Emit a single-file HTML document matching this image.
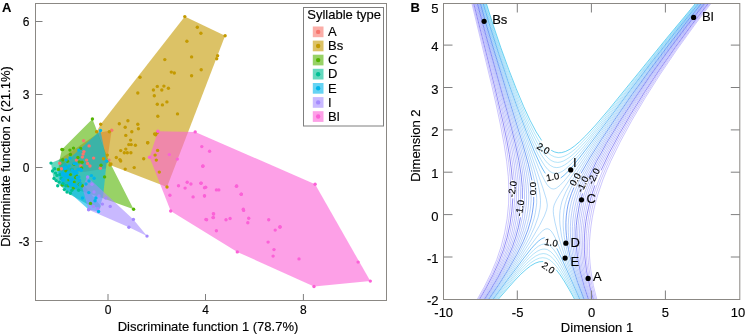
<!DOCTYPE html>
<html><head><meta charset="utf-8"><style>
html,body{margin:0;padding:0;background:#fff;}
body{width:747px;height:335px;overflow:hidden;position:relative;font-family:"Liberation Sans",sans-serif;}
svg{position:absolute;left:0;top:0;will-change:transform;}
text{font-family:"Liberation Sans",sans-serif;fill:#000;stroke:#000;stroke-width:0.15px;}
</style></head><body>
<svg width="747" height="335" viewBox="0 0 747 335">
<g id="left">
<polygon fill="#F8766D" fill-opacity="0.6" points="111.7,130.2 106.0,168.5 84.0,172.0 61.4,171.0 58.5,160.0 99.0,132.8"/>
<polygon fill="#C49A00" fill-opacity="0.6" points="184.8,16.6 225.1,35.7 167.0,187.0 110.0,165.0 96.6,131.8 100.7,124.3"/>
<polygon fill="#53B400" fill-opacity="0.6" points="92.4,119.0 107.6,158.0 133.6,209.2 101.6,197.8 62.2,185.1 58.4,169.4 59.5,160.0 61.9,149.5"/>
<polygon fill="#00C094" fill-opacity="0.6" points="51.0,163.0 62.0,158.5 101.0,206.0 100.0,208.8 87.6,204.3 70.4,194.8 53.6,179.5"/>
<polygon fill="#00B6EB" fill-opacity="0.6" points="100.5,130.5 106.7,161.3 103.1,196.2 98.6,211.5 88.8,209.7 60.0,184.0 57.5,172.0 60.0,167.0"/>
<polygon fill="#A58AFF" fill-opacity="0.6" points="87.0,176.5 133.4,219.4 147.0,236.1 128.9,227.2 88.6,209.7 82.5,188.2"/>
<polygon fill="#FB61D7" fill-opacity="0.6" points="157.9,131.3 195.2,131.9 315.1,184.3 370.3,281.1 314.0,286.5 237.3,251.9 170.7,211.0 149.6,157.3"/>

<g fill="#F8766D"><circle cx="111.7" cy="130.2" r="1.7"/><circle cx="83.6" cy="140.7" r="1.7"/><circle cx="89.1" cy="145.9" r="1.7"/><circle cx="83.9" cy="151.6" r="1.7"/><circle cx="83.1" cy="154.1" r="1.7"/><circle cx="82.4" cy="157.1" r="1.7"/><circle cx="86.6" cy="160.1" r="1.7"/><circle cx="87.6" cy="163.5" r="1.7"/><circle cx="89.9" cy="166.0" r="1.7"/><circle cx="93.6" cy="158.1" r="1.7"/><circle cx="76.4" cy="160.1" r="1.7"/><circle cx="80.9" cy="166.0" r="1.7"/><circle cx="100.3" cy="168.3" r="1.7"/><circle cx="109.0" cy="160.1" r="1.7"/><circle cx="59.7" cy="163.3" r="1.7"/><circle cx="61.4" cy="168.7" r="1.7"/></g>
<g fill="#C49A00"><circle cx="184.8" cy="16.6" r="1.7"/><circle cx="225.1" cy="35.7" r="1.7"/><circle cx="167.0" cy="187.0" r="1.7"/><circle cx="110.0" cy="165.0" r="1.7"/><circle cx="96.6" cy="131.8" r="1.7"/><circle cx="100.7" cy="124.3" r="1.7"/><circle cx="197.3" cy="27.3" r="1.7"/><circle cx="200.9" cy="33.3" r="1.7"/><circle cx="186.9" cy="41.3" r="1.7"/><circle cx="191.6" cy="56.9" r="1.7"/><circle cx="217.6" cy="55.7" r="1.7"/><circle cx="216.7" cy="58.7" r="1.7"/><circle cx="164.8" cy="59.6" r="1.7"/><circle cx="171.3" cy="72.1" r="1.7"/><circle cx="174.3" cy="73.0" r="1.7"/><circle cx="201.2" cy="69.7" r="1.7"/><circle cx="191.6" cy="75.7" r="1.7"/><circle cx="140.0" cy="77.2" r="1.7"/><circle cx="157.3" cy="86.4" r="1.7"/><circle cx="163.9" cy="86.1" r="1.7"/><circle cx="168.4" cy="88.2" r="1.7"/><circle cx="153.4" cy="90.0" r="1.7"/><circle cx="161.8" cy="90.0" r="1.7"/><circle cx="154.3" cy="95.7" r="1.7"/><circle cx="157.3" cy="104.3" r="1.7"/><circle cx="162.4" cy="104.9" r="1.7"/><circle cx="166.9" cy="101.9" r="1.7"/><circle cx="137.8" cy="93.0" r="1.7"/><circle cx="177.5" cy="113.9" r="1.7"/><circle cx="157.8" cy="116.3" r="1.7"/><circle cx="119.3" cy="123.7" r="1.7"/><circle cx="127.9" cy="120.7" r="1.7"/><circle cx="125.2" cy="127.3" r="1.7"/><circle cx="137.8" cy="124.3" r="1.7"/><circle cx="138.4" cy="128.8" r="1.7"/><circle cx="131.8" cy="131.8" r="1.7"/><circle cx="125.8" cy="135.4" r="1.7"/><circle cx="157.2" cy="132.7" r="1.7"/><circle cx="155.7" cy="134.8" r="1.7"/><circle cx="130.6" cy="140.1" r="1.7"/><circle cx="128.8" cy="144.6" r="1.7"/><circle cx="131.2" cy="144.6" r="1.7"/><circle cx="135.4" cy="145.2" r="1.7"/><circle cx="147.6" cy="142.8" r="1.7"/><circle cx="120.7" cy="150.6" r="1.7"/><circle cx="125.8" cy="149.1" r="1.7"/><circle cx="124.3" cy="152.7" r="1.7"/><circle cx="127.3" cy="152.7" r="1.7"/><circle cx="130.9" cy="152.7" r="1.7"/><circle cx="116.3" cy="157.5" r="1.7"/><circle cx="119.9" cy="159.6" r="1.7"/><circle cx="120.7" cy="161.0" r="1.7"/><circle cx="143.7" cy="158.7" r="1.7"/><circle cx="155.1" cy="155.1" r="1.7"/><circle cx="156.3" cy="160.1" r="1.7"/><circle cx="125.2" cy="169.1" r="1.7"/><circle cx="134.2" cy="167.6" r="1.7"/><circle cx="159.3" cy="172.1" r="1.7"/><circle cx="107.3" cy="155.1" r="1.7"/><circle cx="103.4" cy="158.7" r="1.7"/><circle cx="107.0" cy="161.6" r="1.7"/><circle cx="110.9" cy="164.0" r="1.7"/><circle cx="154.6" cy="134.0" r="1.7"/><circle cx="147.8" cy="142.7" r="1.7"/><circle cx="157.6" cy="150.4" r="1.7"/><circle cx="109.3" cy="131.8" r="1.7"/></g>
<g fill="#53B400"><circle cx="92.4" cy="119.0" r="1.7"/><circle cx="133.6" cy="209.2" r="1.7"/><circle cx="61.9" cy="149.5" r="1.7"/><circle cx="62.7" cy="149.6" r="1.7"/><circle cx="69.9" cy="150.1" r="1.7"/><circle cx="73.5" cy="148.1" r="1.7"/><circle cx="80.6" cy="148.4" r="1.7"/><circle cx="104.6" cy="176.9" r="1.7"/><circle cx="70.4" cy="154.5" r="1.7"/><circle cx="77.9" cy="157.5" r="1.7"/><circle cx="62.9" cy="159.7" r="1.7"/><circle cx="67.4" cy="161.2" r="1.7"/><circle cx="74.1" cy="164.2" r="1.7"/><circle cx="79.3" cy="161.9" r="1.7"/><circle cx="81.6" cy="167.9" r="1.7"/><circle cx="71.9" cy="169.4" r="1.7"/><circle cx="65.9" cy="170.9" r="1.7"/><circle cx="58.4" cy="169.4" r="1.7"/><circle cx="70.4" cy="174.6" r="1.7"/><circle cx="76.4" cy="175.4" r="1.7"/><circle cx="68.9" cy="179.9" r="1.7"/><circle cx="74.1" cy="182.1" r="1.7"/><circle cx="79.3" cy="184.3" r="1.7"/><circle cx="62.2" cy="185.1" r="1.7"/><circle cx="68.1" cy="185.8" r="1.7"/><circle cx="73.4" cy="188.1" r="1.7"/><circle cx="82.3" cy="185.8" r="1.7"/><circle cx="75.6" cy="177.6" r="1.7"/><circle cx="82.1" cy="162.3" r="1.7"/><circle cx="101.0" cy="165.3" r="1.7"/><circle cx="90.5" cy="203.4" r="1.7"/></g>
<g fill="#00C094"><circle cx="51.0" cy="163.1" r="1.7"/><circle cx="54.7" cy="168.7" r="1.7"/><circle cx="54.0" cy="178.4" r="1.7"/><circle cx="57.0" cy="175.4" r="1.7"/><circle cx="56.2" cy="180.6" r="1.7"/><circle cx="59.2" cy="182.1" r="1.7"/><circle cx="61.4" cy="178.4" r="1.7"/><circle cx="62.9" cy="183.6" r="1.7"/><circle cx="65.9" cy="185.8" r="1.7"/><circle cx="70.4" cy="193.3" r="1.7"/><circle cx="71.9" cy="190.3" r="1.7"/><circle cx="78.6" cy="190.3" r="1.7"/><circle cx="55.5" cy="173.1" r="1.7"/><circle cx="60.0" cy="174.6" r="1.7"/><circle cx="57.7" cy="185.8" r="1.7"/><circle cx="64.4" cy="189.6" r="1.7"/><circle cx="52.5" cy="171.0" r="1.7"/><circle cx="67.0" cy="192.0" r="1.7"/></g>
<g fill="#00B6EB"><circle cx="100.5" cy="130.5" r="1.7"/><circle cx="106.7" cy="161.3" r="1.7"/><circle cx="98.6" cy="211.5" r="1.7"/><circle cx="69.1" cy="165.9" r="1.7"/><circle cx="76.3" cy="163.9" r="1.7"/><circle cx="73.8" cy="171.5" r="1.7"/><circle cx="63.3" cy="175.2" r="1.7"/><circle cx="62.8" cy="173.3" r="1.7"/><circle cx="71.3" cy="183.5" r="1.7"/><circle cx="64.7" cy="167.8" r="1.7"/><circle cx="75.8" cy="186.6" r="1.7"/><circle cx="74.7" cy="172.3" r="1.7"/><circle cx="80.9" cy="169.5" r="1.7"/><circle cx="68.8" cy="183.2" r="1.7"/><circle cx="66.0" cy="177.1" r="1.7"/><circle cx="76.1" cy="171.7" r="1.7"/><circle cx="74.1" cy="163.6" r="1.7"/><circle cx="77.0" cy="173.1" r="1.7"/><circle cx="68.9" cy="177.2" r="1.7"/><circle cx="72.0" cy="169.8" r="1.7"/><circle cx="79.5" cy="180.2" r="1.7"/><circle cx="67.4" cy="176.9" r="1.7"/><circle cx="73.6" cy="184.8" r="1.7"/><circle cx="78.0" cy="169.5" r="1.7"/><circle cx="71.2" cy="181.7" r="1.7"/><circle cx="65.3" cy="174.7" r="1.7"/><circle cx="62.9" cy="179.4" r="1.7"/><circle cx="78.8" cy="176.9" r="1.7"/><circle cx="81.3" cy="170.2" r="1.7"/><circle cx="77.3" cy="177.5" r="1.7"/><circle cx="74.8" cy="173.9" r="1.7"/><circle cx="72.4" cy="179.3" r="1.7"/><circle cx="63.3" cy="180.2" r="1.7"/><circle cx="80.1" cy="169.4" r="1.7"/><circle cx="70.5" cy="179.4" r="1.7"/><circle cx="62.5" cy="174.0" r="1.7"/><circle cx="64.8" cy="168.4" r="1.7"/><circle cx="70.6" cy="184.7" r="1.7"/><circle cx="63.8" cy="173.7" r="1.7"/><circle cx="74.1" cy="185.0" r="1.7"/><circle cx="80.0" cy="184.5" r="1.7"/><circle cx="68.1" cy="172.8" r="1.7"/><circle cx="69.9" cy="185.0" r="1.7"/><circle cx="65.9" cy="168.0" r="1.7"/><circle cx="67.1" cy="174.6" r="1.7"/><circle cx="78.8" cy="150.1" r="1.7"/><circle cx="94.1" cy="178.3" r="1.7"/><circle cx="91.4" cy="175.6" r="1.7"/><circle cx="88.8" cy="192.6" r="1.7"/><circle cx="95.9" cy="198.0" r="1.7"/><circle cx="95.0" cy="200.7" r="1.7"/><circle cx="82.5" cy="198.0" r="1.7"/><circle cx="86.0" cy="184.0" r="1.7"/><circle cx="89.0" cy="181.0" r="1.7"/><circle cx="66.0" cy="160.0" r="1.7"/><circle cx="70.0" cy="158.0" r="1.7"/></g>
<g fill="#A58AFF"><circle cx="147.0" cy="236.1" r="1.7"/><circle cx="133.4" cy="219.4" r="1.7"/><circle cx="128.9" cy="227.2" r="1.7"/><circle cx="88.6" cy="209.7" r="1.7"/><circle cx="87.6" cy="176.9" r="1.7"/><circle cx="92.0" cy="184.3" r="1.7"/><circle cx="94.0" cy="192.0" r="1.7"/><circle cx="105.7" cy="198.1" r="1.7"/><circle cx="102.4" cy="204.1" r="1.7"/><circle cx="110.2" cy="206.4" r="1.7"/><circle cx="93.4" cy="206.4" r="1.7"/><circle cx="97.9" cy="208.6" r="1.7"/><circle cx="88.9" cy="209.3" r="1.7"/><circle cx="99.0" cy="196.0" r="1.7"/></g>
<g fill="#FB61D7"><circle cx="157.9" cy="131.3" r="1.7"/><circle cx="195.2" cy="131.9" r="1.7"/><circle cx="315.1" cy="184.3" r="1.7"/><circle cx="370.3" cy="281.1" r="1.7"/><circle cx="314.0" cy="286.5" r="1.7"/><circle cx="237.3" cy="251.9" r="1.7"/><circle cx="170.7" cy="211.0" r="1.7"/><circle cx="149.6" cy="157.3" r="1.7"/><circle cx="201.8" cy="146.6" r="1.7"/><circle cx="209.6" cy="151.3" r="1.7"/><circle cx="169.3" cy="154.6" r="1.7"/><circle cx="177.3" cy="159.1" r="1.7"/><circle cx="202.7" cy="166.3" r="1.7"/><circle cx="178.5" cy="185.7" r="1.7"/><circle cx="201.2" cy="183.1" r="1.7"/><circle cx="187.2" cy="182.2" r="1.7"/><circle cx="190.9" cy="184.0" r="1.7"/><circle cx="185.1" cy="188.1" r="1.7"/><circle cx="205.7" cy="187.2" r="1.7"/><circle cx="216.4" cy="189.9" r="1.7"/><circle cx="236.4" cy="186.3" r="1.7"/><circle cx="169.9" cy="195.2" r="1.7"/><circle cx="193.1" cy="196.9" r="1.7"/><circle cx="204.5" cy="196.1" r="1.7"/><circle cx="241.3" cy="194.3" r="1.7"/><circle cx="243.6" cy="210.4" r="1.7"/><circle cx="213.6" cy="214.0" r="1.7"/><circle cx="213.0" cy="217.6" r="1.7"/><circle cx="230.1" cy="218.5" r="1.7"/><circle cx="205.9" cy="219.4" r="1.7"/><circle cx="203.0" cy="166.0" r="1.7"/><circle cx="200.9" cy="183.3" r="1.7"/><circle cx="204.5" cy="187.8" r="1.7"/><circle cx="204.5" cy="195.8" r="1.7"/><circle cx="218.8" cy="189.9" r="1.7"/><circle cx="236.7" cy="186.0" r="1.7"/><circle cx="241.2" cy="194.3" r="1.7"/><circle cx="243.3" cy="209.3" r="1.7"/><circle cx="213.4" cy="213.7" r="1.7"/><circle cx="213.4" cy="217.6" r="1.7"/><circle cx="206.6" cy="219.7" r="1.7"/><circle cx="226.0" cy="219.7" r="1.7"/><circle cx="248.7" cy="218.2" r="1.7"/><circle cx="247.8" cy="222.7" r="1.7"/><circle cx="216.4" cy="230.7" r="1.7"/><circle cx="268.7" cy="219.7" r="1.7"/><circle cx="280.0" cy="227.2" r="1.7"/><circle cx="275.2" cy="230.1" r="1.7"/><circle cx="268.1" cy="242.1" r="1.7"/><circle cx="274.0" cy="249.6" r="1.7"/><circle cx="273.1" cy="256.1" r="1.7"/><circle cx="280.0" cy="226.6" r="1.7"/><circle cx="299.0" cy="258.9" r="1.7"/><circle cx="358.1" cy="262.1" r="1.7"/></g>

<rect x="35.5" y="3.5" width="351" height="297" fill="none" stroke="#8b8884" stroke-width="1"/>
<g stroke="#7f7f7f" stroke-width="1">
<path d="M35.5 21.5H42.5M35.5 94.5H42.5M35.5 167.5H42.5M35.5 241.5H42.5M108 300.5V294M205.5 300.5V294M303.4 300.5V294"/>
</g>
<g font-size="12" text-anchor="end">
<text x="29.5" y="25.8">6</text><text x="29.5" y="98.8">3</text><text x="29.5" y="172.2">0</text><text x="29.5" y="245.7">-3</text>
</g>
<g font-size="12" text-anchor="middle">
<text x="108" y="313.5">0</text><text x="205.5" y="313.5">4</text><text x="303.4" y="313.5">8</text>
</g>
<text x="208" y="330.5" font-size="13" text-anchor="middle">Discriminate function 1 (78.7%)</text>
<text transform="translate(10,156.5) rotate(-90)" font-size="13" text-anchor="middle">Discriminate function 2 (21.1%)</text>
<text x="2" y="11.5" font-size="13" font-weight="bold">A</text>
<rect x="303.5" y="7.5" width="80" height="118.5" fill="#fff" stroke="#7f7f7f" stroke-width="1"/>
<text x="307.3" y="18.6" font-size="13">Syllable type</text>
<rect x="312.8" y="26.5" width="10.7" height="10.7" fill="#F8766D" fill-opacity="0.6"/><circle cx="318.15" cy="31.9" r="2.2" fill="#F8766D"/><text x="328" y="36.1" font-size="13">A</text>
<rect x="312.8" y="40.6" width="10.7" height="10.7" fill="#C49A00" fill-opacity="0.6"/><circle cx="318.15" cy="46.0" r="2.2" fill="#C49A00"/><text x="328" y="50.2" font-size="13">Bs</text>
<rect x="312.8" y="54.7" width="10.7" height="10.7" fill="#53B400" fill-opacity="0.6"/><circle cx="318.15" cy="60.1" r="2.2" fill="#53B400"/><text x="328" y="64.3" font-size="13">C</text>
<rect x="312.8" y="68.8" width="10.7" height="10.7" fill="#00C094" fill-opacity="0.6"/><circle cx="318.15" cy="74.2" r="2.2" fill="#00C094"/><text x="328" y="78.4" font-size="13">D</text>
<rect x="312.8" y="83.0" width="10.7" height="10.7" fill="#00B6EB" fill-opacity="0.6"/><circle cx="318.15" cy="88.3" r="2.2" fill="#00B6EB"/><text x="328" y="92.5" font-size="13">E</text>
<rect x="312.8" y="97.1" width="10.7" height="10.7" fill="#A58AFF" fill-opacity="0.6"/><circle cx="318.15" cy="102.4" r="2.2" fill="#A58AFF"/><text x="328" y="106.6" font-size="13">I</text>
<rect x="312.8" y="111.2" width="10.7" height="10.7" fill="#FB61D7" fill-opacity="0.6"/><circle cx="318.15" cy="116.5" r="2.2" fill="#FB61D7"/><text x="328" y="120.7" font-size="13">Bl</text>

</g>
<g id="right">
<clipPath id="cp"><rect x="443.5" y="3.5" width="296.3" height="296"/></clipPath>
<g clip-path="url(#cp)">
<g fill="none" stroke-width="0.4">
<path d="M712.5 1.4 694.7 24.9 676.7 49.9 660.2 74.2 645.2 97.8 631.7 120.6 620.2 141.8 610.6 161.4 606.7 170.4 603.0 179.4 597.7 194.9 595.7 201.9 593.9 209.4 592.2 217.9 591.0 225.9 590.1 233.9 589.5 241.4 589.4 248.4 589.5 255.9 590.0 262.9 590.8 270.4 593.3 285.4 597.3 301.4" stroke="#7d6efa"/>
<path d="M476.1 301.4 484.3 286.9 491.2 272.9 496.7 259.8 501.2 246.4 504.6 232.9 507.1 218.9 508.6 203.9 508.9 189.9 508.3 176.4 506.7 161.4 504.2 144.8 500.7 125.9 496.7 107.0 491.7 85.1 471.4 1.4M711.5 1.4 693.2 25.5 675.2 50.4 658.7 74.5 643.7 97.9 630.2 120.4 618.1 142.4 608.3 162.4 600.8 179.9 595.7 194.9 593.7 201.9 591.9 209.4 590.4 217.4 589.1 225.4 588.3 233.4 587.8 240.9 587.6 247.9 587.8 255.4 588.4 262.4 589.2 269.9 590.4 277.4 592.0 285.4 596.1 301.4" stroke="#7d6efa"/>
<path d="M477.2 301.4 485.6 286.9 492.7 272.9 498.4 259.4 503.1 245.9 506.6 232.4 509.0 218.4 510.6 203.4 510.9 189.9 510.3 176.9 508.7 162.4 506.2 146.3 502.7 127.9 498.7 109.4 493.7 88.0 472.3 1.4M710.6 1.4 691.2 26.8 673.7 50.9 657.2 74.9 641.7 98.9 627.8 121.9 616.1 142.9 606.2 162.9 602.2 171.9 598.7 180.4 596.0 187.9 593.5 195.4 591.6 202.4 590.0 209.4 588.5 217.4 587.3 225.4 586.4 233.4 586.0 240.9 586.0 247.9 586.2 255.4 586.8 262.4 587.8 269.9 589.0 277.4 590.7 285.3 595.0 301.4" stroke="#786ff9"/>
<path d="M479.3 301.4 488.3 286.4 495.6 272.4 501.6 258.9 506.5 245.4 510.2 231.9 512.8 218.4 514.4 203.9 514.7 197.4 514.8 190.4 514.1 177.9 512.6 164.4 510.0 148.9 506.4 130.9 502.7 114.4 497.7 94.0 474.0 1.4M709.0 1.4 689.7 26.4 670.2 52.9 653.2 77.4 637.2 101.8 623.2 124.6 611.2 145.9 601.6 164.9 597.8 173.4 594.3 181.9 591.6 189.4 589.4 196.4 587.5 203.4 586.0 210.4 584.5 218.4 583.5 225.9 582.9 233.4 582.6 240.9 582.7 247.9 583.1 255.4 583.9 262.4 585.0 269.9 588.2 285.0 592.9 301.4" stroke="#6f70f8"/>
<path d="M480.3 301.4 489.7 285.9 497.1 271.9 503.3 258.4 508.2 245.4 512.0 231.9 514.7 218.4 516.3 203.9 516.7 190.9 516.0 178.9 514.5 165.4 511.9 149.9 508.2 132.4 499.7 97.1 474.7 1.4M708.2 1.4 687.7 27.9 669.2 53.0 651.7 78.0 635.2 102.9 620.7 126.4 609.1 146.9 599.6 165.4 595.8 173.9 592.3 182.4 589.5 189.9 587.3 196.9 585.6 203.4 584.1 210.4 582.7 218.4 581.7 225.9 581.1 233.4 580.9 240.4 581.1 247.4 581.6 254.9 582.4 261.9 583.6 269.4 585.2 277.4 587.0 284.9 591.9 301.4" stroke="#6b71f7"/>
<path d="M481.3 301.4 490.7 286.1 498.4 271.9 504.7 258.4 509.9 244.9 513.8 231.9 516.5 218.4 518.2 204.4 518.6 197.9 518.6 191.4 517.9 179.4 516.4 166.4 513.8 151.4 510.2 134.6 501.7 100.2 483.0 30.4 475.4 1.4M707.5 1.4 687.7 26.9 668.7 52.4 650.7 77.9 633.7 103.4 618.7 127.4 606.7 148.4 597.2 166.9 593.3 175.4 590.0 183.4 587.4 190.4 585.2 197.4 583.5 203.9 582.1 210.9 580.8 218.4 579.9 225.9 579.4 233.4 579.3 240.4 579.5 247.4 580.1 254.4 580.9 261.4 582.2 268.9 585.8 284.4 590.9 301.4" stroke="#6671f7"/>
<path d="M482.2 301.4 491.6 286.4 499.7 271.9 506.4 257.9 511.5 244.9 515.5 231.9 517.1 225.4 518.4 218.4 520.2 204.4 520.5 198.4 520.5 191.9 519.9 180.4 518.3 167.9 515.8 153.4 512.2 136.9 503.7 103.3 484.4 32.9 476.1 1.4M706.8 1.4 686.2 27.8 666.7 53.9 648.2 80.0 631.2 105.4 616.7 128.4 604.3 149.9 594.7 168.4 591.0 176.4 587.7 184.4 585.2 191.4 583.0 198.4 581.4 204.9 580.1 211.4 578.9 218.9 578.1 225.9 577.7 233.4 577.6 240.4 577.9 247.4 578.6 254.4 579.5 261.4 580.9 268.9 584.7 284.4 590.0 301.4" stroke="#6272f6"/>
<path d="M484.0 301.4 494.3 285.4 502.6 270.9 509.7 256.9 515.1 243.9 517.4 237.4 519.4 230.9 522.2 218.4 524.1 204.9 524.5 198.9 524.5 192.9 523.8 182.4 522.3 170.4 519.7 156.9 516.1 141.4 508.2 111.4 487.5 38.4 477.4 1.4M705.5 1.4 684.6 27.9 664.2 55.0 645.2 81.5 627.2 107.9 612.2 131.4 599.4 152.9 590.0 170.9 586.2 178.9 583.1 186.4 580.7 192.9 578.8 199.4 577.3 205.4 576.0 212.4 575.0 219.4 574.4 226.4 574.1 232.9 574.2 239.9 574.7 246.9 575.6 253.9 576.7 260.9 578.3 268.4 582.5 284.4 588.3 301.4" stroke="#5975f5"/>
<path d="M484.8 301.4 495.3 285.4 504.1 270.4 511.4 256.4 517.0 243.4 521.3 230.9 522.9 224.9 524.3 218.4 526.2 205.4 526.5 199.4 526.6 193.4 525.9 183.4 524.3 171.9 521.8 158.9 518.2 143.9 511.1 117.4 489.0 40.9 478.0 1.4M704.9 1.4 683.2 28.9 662.7 55.9 643.3 82.9 625.7 108.4 610.2 132.4 597.3 153.9 587.6 171.9 583.9 179.9 580.7 187.4 578.3 193.9 576.4 200.4 575.0 206.4 573.8 212.9 572.9 219.9 572.4 226.4 572.3 232.9 572.5 239.9 573.1 246.4 574.0 253.4 575.3 260.9 577.0 268.4 581.5 284.4 587.4 301.4" stroke="#567ef4"/>
<path d="M485.7 301.4 496.3 285.4 505.6 269.9 513.1 255.9 518.9 242.9 523.4 230.4 526.4 218.4 527.6 211.9 528.4 205.4 528.7 199.9 528.8 194.4 528.1 184.9 526.6 173.9 524.0 161.4 520.5 146.9 512.3 117.4 489.0 38.4 478.6 1.4M704.3 1.4 681.7 29.9 661.2 56.9 641.2 84.4 623.3 110.4 607.3 134.9 594.5 155.9 589.5 164.9 584.8 173.9 581.0 181.9 578.0 188.9 575.7 195.4 573.9 201.4 572.7 206.9 571.6 213.4 570.8 219.9 570.4 226.4 570.4 232.9 570.7 239.4 571.3 245.9 572.4 252.9 573.8 260.4 575.6 267.9 580.3 283.9 586.6 301.4" stroke="#5486f4"/>
<path d="M486.5 301.4 497.3 285.4 506.9 269.9 514.8 255.4 520.9 242.4 525.4 230.4 527.2 224.4 528.7 218.4 529.9 211.9 530.7 205.9 531.1 200.9 531.1 195.4 530.5 186.4 529.0 176.4 526.5 164.4 523.0 150.4 515.1 122.9 491.0 42.9 479.2 1.4M703.7 1.4 682.2 28.4 661.2 55.9 640.7 83.9 621.5 111.4 604.9 136.4 591.7 157.9 582.0 175.4 578.4 182.9 575.4 189.9 573.0 196.4 571.4 201.9 570.3 206.9 569.2 213.4 568.5 219.9 568.2 225.9 568.3 232.4 568.8 238.9 569.5 245.4 570.7 252.4 574.2 267.4 579.3 283.9 585.7 301.4" stroke="#518ef3"/>
<path d="M488.1 301.4 500.0 284.4 510.3 268.4 518.9 253.9 525.8 240.4 530.8 228.9 534.1 218.4 535.3 212.9 536.2 207.4 536.7 202.9 536.7 198.4 536.2 190.9 534.9 182.9 532.6 172.9 529.4 160.9 522.4 137.9 495.7 53.7 487.5 26.4 480.4 1.4M702.6 1.4 680.1 29.4 658.5 57.4 637.4 85.9 617.1 114.4 599.1 140.9 584.4 163.9 574.6 180.9 571.1 187.9 568.3 194.4 566.5 199.4 565.1 204.4 564.1 209.4 563.5 214.9 563.2 220.4 563.2 225.9 563.6 231.4 564.3 237.4 567.0 250.9 571.1 265.9 576.9 282.9 584.1 301.4" stroke="#4c9ef2"/>
<path d="M488.9 301.4 501.4 283.9 512.3 267.4 521.8 251.9 529.5 237.9 534.6 226.9 538.0 217.4 539.1 212.9 540.1 207.9 540.4 204.4 540.5 200.4 540.0 194.4 538.9 187.9 537.0 179.9 534.0 169.4 527.8 149.9 509.2 93.4 499.2 62.4 489.5 30.9 480.9 1.4M702.0 1.4 680.2 28.4 658.5 56.4 636.8 85.4 615.9 114.4 595.5 143.9 579.4 168.4 569.6 184.9 565.9 191.9 563.5 197.4 562.0 201.4 561.0 205.4 560.1 210.4 559.7 214.9 559.7 219.9 560.0 224.9 561.5 235.9 564.8 249.9 569.5 265.4 575.8 282.9 583.3 301.4" stroke="#4aa3f2"/>
<path d="M489.8 301.4 501.4 285.4 512.1 269.9 521.9 254.9 531.5 239.4 539.6 225.4 544.4 215.9 546.6 209.9 547.1 207.4 547.3 204.9 546.4 199.4 543.0 188.4 516.7 112.6 501.2 66.1 490.7 32.7 481.5 1.4M701.5 1.4 681.6 25.9 661.9 50.9 641.8 77.4 621.9 104.4 598.0 137.9 574.9 171.4 560.4 193.4 556.5 199.9 554.6 203.9 553.9 205.9 553.4 208.4 553.3 211.4 553.5 214.4 555.1 222.9 558.4 235.9 563.4 251.9 569.0 267.9 575.5 284.9 582.4 301.4" stroke="#48a7f2"/>
<path d="M700.9 1.4 673.0 35.9 645.5 71.4 621.9 102.9 580.7 159.6 569.2 174.9 563.7 181.5 559.7 185.6 556.2 188.2 554.7 188.8 553.2 189.0 551.2 188.5 549.2 187.1 547.2 184.8 544.7 180.7 541.7 174.7 538.7 167.8 530.7 147.6 517.7 112.0 504.2 72.7 492.2 35.4 482.1 1.4M490.6 301.4 506.5 279.9 529.7 246.7 536.2 237.8 539.7 233.6 542.7 230.7 545.2 229.1 547.2 228.7 549.2 229.3 551.2 231.1 553.2 234.0 555.2 237.8 559.2 247.0 572.5 280.4 581.6 301.4" stroke="#46abf1"/>
<path d="M699.7 1.4 678.4 27.4 656.9 54.4 634.5 83.4 595.2 134.9 580.2 153.8 572.2 162.8 565.7 168.9 562.7 171.1 560.2 172.4 557.7 173.3 555.7 173.5 552.7 172.9 550.2 171.6 547.7 169.4 544.7 165.7 541.7 161.0 538.2 154.6 534.2 146.2 530.2 137.0 524.7 123.5 518.7 108.0 506.2 73.3 494.2 37.3 483.2 1.4M492.4 301.4 519.2 266.7 529.7 254.1 534.2 249.5 538.2 246.3 541.7 244.5 544.7 243.9 546.2 244.0 547.7 244.4 550.7 246.3 553.7 249.5 556.7 253.9 559.7 259.1 563.7 267.0 579.8 301.4" stroke="#43b3f1"/>
<path d="M699.1 1.4 681.0 23.4 662.0 46.9 640.4 74.4 600.7 125.7 583.7 146.6 574.7 156.5 571.2 159.8 567.7 162.8 564.7 164.9 561.7 166.5 559.2 167.3 556.7 167.6 553.7 167.2 550.7 165.7 547.7 163.3 544.7 159.8 541.2 154.6 537.7 148.4 533.7 140.4 529.7 131.6 524.2 118.5 518.7 104.7 506.2 70.7 494.7 36.6 483.8 1.4M493.3 301.4 516.7 272.1 523.2 264.4 528.2 258.9 533.2 254.2 537.2 251.3 540.7 249.6 542.7 249.2 544.2 249.1 546.2 249.3 547.7 249.8 550.7 251.7 553.7 254.7 557.2 259.4 560.7 265.1 564.7 272.6 578.9 301.4" stroke="#41b7f1"/>
<path d="M698.5 1.4 666.5 40.4 605.2 117.9 594.7 130.9 586.7 140.3 577.2 150.5 573.2 154.3 569.7 157.2 566.2 159.5 563.2 161.1 560.2 162.1 557.7 162.4 554.2 161.9 551.2 160.5 548.2 158.2 544.7 154.4 541.2 149.4 537.7 143.6 533.7 135.9 529.7 127.5 524.7 116.1 519.2 102.6 507.2 70.8 495.2 35.9 484.4 1.4M494.3 301.4 515.2 275.9 521.7 268.6 526.7 263.4 531.7 258.9 535.7 256.1 539.7 254.2 543.2 253.6 545.2 253.8 546.7 254.2 550.2 256.0 553.7 259.2 557.2 263.6 560.7 268.9 565.2 276.7 577.9 301.4" stroke="#3fbbf0"/>
<path d="M697.9 1.4 664.5 41.9 606.7 114.1 597.2 125.6 589.2 134.8 579.2 145.3 575.2 149.0 571.2 152.2 567.7 154.5 564.2 156.2 561.2 157.2 558.2 157.5 554.7 156.9 551.2 155.3 548.2 153.0 544.7 149.3 541.2 144.6 537.7 139.0 533.7 131.6 529.2 122.4 524.2 111.3 518.7 98.1 507.2 68.1 495.7 35.0 485.1 1.4M495.3 301.4 514.2 279.1 520.2 272.5 525.7 267.1 530.7 262.8 535.2 259.9 539.2 258.2 542.7 257.7 546.2 258.2 549.7 259.9 553.2 262.8 556.7 266.7 560.7 272.4 564.7 278.9 576.9 301.4" stroke="#3ebff0"/>
</g><g fill="none" stroke-width="0.65">
<path d="M478.3 301.4 486.2 287.9 493.3 274.4 498.9 261.9 503.6 249.4 507.1 237.4 509.9 224.9 511.8 211.4 512.8 198.4M512.4 179.9 511.2 167.9 509.3 154.4 506.7 139.9 503.2 122.9 494.7 86.9 473.2 1.4M709.8 1.4 691.7 24.9 675.2 47.4 658.7 70.9 644.2 92.8 630.7 114.4 619.1 134.4 609.2 153.0 601.0 170.4M594.9 185.4 592.4 192.9 590.3 199.9 587.2 213.9 585.9 221.4 585.0 228.9 584.5 235.9 584.3 242.9 584.4 249.9 584.8 256.9 586.5 270.9 589.6 285.9 593.9 301.4" stroke="#5851f0"/>
<path d="M483.1 301.4 490.8 289.4 497.6 277.9 503.5 266.9 508.5 256.4 512.6 246.4 515.8 236.9 518.4 227.4 520.5 217.4M522.4 198.9 522.3 187.4 521.1 174.9 518.8 160.4 515.2 143.4 511.5 128.4 506.7 110.1 485.9 35.4 476.8 1.4M706.2 1.4 686.2 26.8 667.7 51.4 649.7 76.4 633.7 99.9 618.8 122.9 606.4 143.4 596.5 161.4 588.7 177.6M582.6 193.4 580.8 199.4 579.3 205.4 577.0 218.9 576.3 225.4 575.9 231.9 576.1 244.4 577.5 257.4 580.1 270.9 583.9 285.4 589.1 301.4" stroke="#4655f0"/>
<path d="M487.3 301.4 498.6 284.9 508.4 269.4 516.9 254.4 523.3 241.4 527.9 229.9 531.1 218.9 532.3 212.9 533.2 206.9 533.7 201.9 533.7 196.9M531.9 180.4 528.5 164.9 523.0 144.9 494.0 50.4 486.4 24.9 479.8 1.4M703.1 1.4 684.7 24.4 667.2 46.9 649.2 70.9 632.2 94.4 615.9 117.9 601.5 139.4 589.9 157.9 581.0 173.4M574.0 187.4 571.5 193.4 569.5 199.4 568.0 204.9 567.1 209.9 566.3 215.9 565.9 222.4 565.9 228.9 566.4 235.4 567.2 242.4 568.5 249.4 570.1 256.9 572.2 264.9 577.7 282.4 584.9 301.4" stroke="#3273f0"/>
<path d="M700.3 1.4 675.9 31.4 651.5 62.4 630.9 89.4 591.7 141.9 579.2 158.2 573.2 165.6 568.2 171.3 564.2 175.2 560.7 178.0M545.3 173.4 542.7 169.1 540.2 164.4 534.2 151.2 526.7 132.6 517.7 108.6 508.2 81.8 498.7 53.5 490.2 26.8 482.6 1.4M491.5 301.4 523.2 258.9 531.2 248.7 535.2 244.2 538.7 240.9 541.7 238.7 544.7 237.6M556.8 248.4 562.2 259.6 580.7 301.4" stroke="#289bf0"/>
<path d="M697.2 1.4 666.5 38.4 608.7 109.7 595.7 125.0 585.7 135.8 579.7 141.6 574.7 145.9 570.2 149.1 565.7 151.4 561.7 152.6 558.2 152.8 554.7 152.0 551.2 150.3M541.6 140.4 536.2 131.9 530.2 120.6 523.7 106.6 516.2 88.7 508.7 69.4 500.7 47.3 493.2 25.1 485.7 1.4M496.4 301.4 514.2 281.1 520.7 274.3 526.2 269.3 530.7 265.8 535.2 263.2 539.2 261.8 543.2 261.5M556.2 269.7 560.2 274.9 564.2 281.0 569.2 289.5 575.8 301.4" stroke="#1eb9eb"/>
</g>
<g font-size="9.5" fill="#000">
<text transform="translate(543.3,148.4) rotate(30)" text-anchor="middle" dy="0.35em">2.0</text>
<text transform="translate(552.6,176.8) rotate(-10)" text-anchor="middle" dy="0.35em">1.0</text>
<text transform="translate(512.3,189.0) rotate(-80)" text-anchor="middle" dy="0.35em">-2.0</text>
<text transform="translate(519.8,208.0) rotate(-80)" text-anchor="middle" dy="0.35em">-1.0</text>
<text transform="translate(532.8,188.6) rotate(-90)" text-anchor="middle" dy="0.35em">0.0</text>
<text transform="translate(575.2,179.4) rotate(-60)" text-anchor="middle" dy="0.35em">0.0</text>
<text transform="translate(582.6,184.2) rotate(-65)" text-anchor="middle" dy="0.35em">-1.0</text>
<text transform="translate(593.7,176.1) rotate(-65)" text-anchor="middle" dy="0.35em">-2.0</text>
<text transform="translate(551.2,242.5) rotate(10)" text-anchor="middle" dy="0.35em">1.0</text>
<text transform="translate(548.3,267.7) rotate(35)" text-anchor="middle" dy="0.35em">2.0</text>
</g>
</g>
<rect x="443.5" y="3.5" width="296.3" height="296" fill="none" stroke="#8b8884" stroke-width="1"/>
<g stroke="#7f7f7f" stroke-width="1">
<path d="M443.5 45.1H452.5M443.5 87.5H452.5M443.5 129.9H452.5M443.5 172.2H452.5M443.5 214.6H452.5M443.5 257H452.5"/>
<path d="M739.8 45.1H730.8M739.8 87.5H730.8M739.8 129.9H730.8M739.8 172.2H730.8M739.8 214.6H730.8M739.8 257H730.8"/>
<path d="M517.3 299.5V290.5M591.4 299.5V290.5M665.4 299.5V290.5M517.3 3.5V12.5M591.4 3.5V12.5M665.4 3.5V12.5"/>
</g>
<g font-size="13" text-anchor="end">
<text x="438.5" y="12.7">5</text><text x="438.5" y="51.1">4</text><text x="438.5" y="93.5">3</text><text x="438.5" y="135.9">2</text><text x="438.5" y="178.2">1</text><text x="438.5" y="220.6">0</text><text x="438.5" y="263">-1</text><text x="438.5" y="305.2">-2</text>
</g>
<g font-size="13" text-anchor="middle">
<text x="443.7" y="317">-10</text><text x="517.6" y="317">-5</text><text x="591.5" y="317">0</text><text x="665.4" y="317">5</text><text x="738" y="317">10</text>
</g>
<text x="597" y="332" font-size="13" text-anchor="middle">Dimension 1</text>
<text transform="translate(419.6,145.6) rotate(-90)" font-size="13" text-anchor="middle">Dimension 2</text>
<text x="410.5" y="11.5" font-size="13" font-weight="bold">B</text>
<circle cx="484.1" cy="21.3" r="2.6" fill="#000"/><text x="492.2" y="24.0" font-size="13">Bs</text>
<circle cx="693.6" cy="17.4" r="2.6" fill="#000"/><text x="702.0" y="20.9" font-size="13">Bl</text>
<circle cx="570.7" cy="169.9" r="2.6" fill="#000"/><text x="573.0" y="166.8" font-size="13">I</text>
<circle cx="581.5" cy="199.8" r="2.6" fill="#000"/><text x="586.5" y="202.8" font-size="13">C</text>
<circle cx="565.9" cy="243.2" r="2.6" fill="#000"/><text x="570.5" y="246.8" font-size="13">D</text>
<circle cx="565.1" cy="258.1" r="2.6" fill="#000"/><text x="570.5" y="266.2" font-size="13">E</text>
<circle cx="588.1" cy="278.4" r="2.6" fill="#000"/><text x="593.0" y="281.4" font-size="13">A</text>

</g>
</svg>
</body></html>
